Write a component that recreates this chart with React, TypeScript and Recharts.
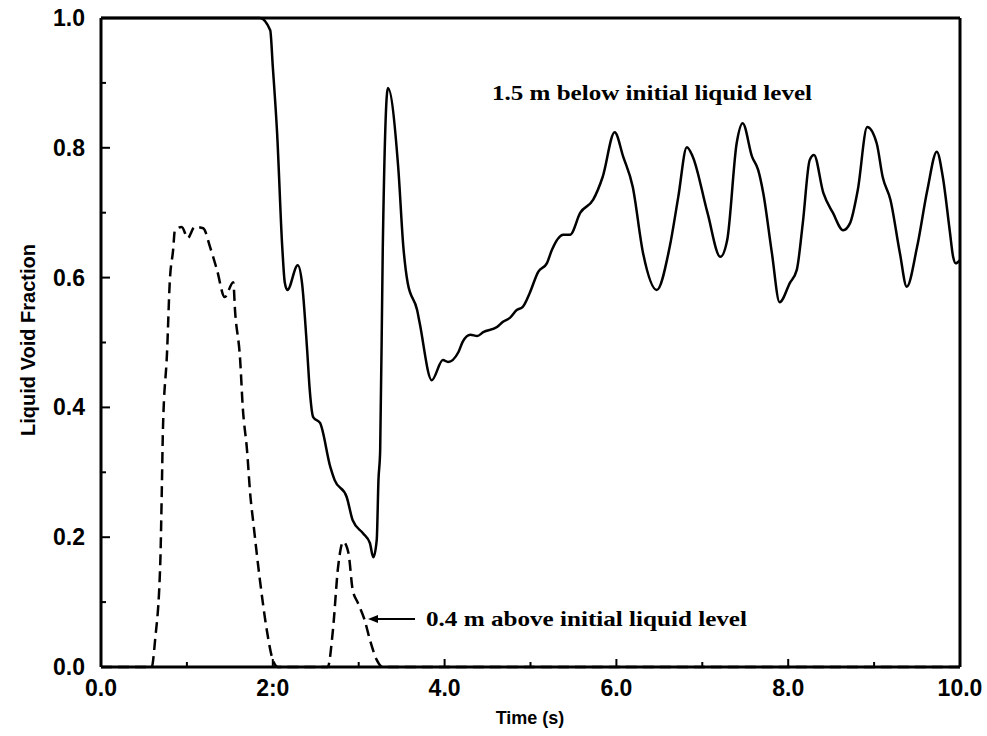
import { LineChart, Line, XAxis, YAxis } from "recharts"

// 1.5 m below initial liquid level (solid)
const belowTime = [
  0, 1.85, 1.97, 2.0, 2.05, 2.11, 2.14, 2.17, 2.29, 2.34, 2.4, 2.43, 2.47, 2.55, 2.67, 2.72, 2.86, 2.93,
  3.05, 3.13, 3.17, 3.21, 3.23, 3.25, 3.28, 3.34, 3.46, 3.52, 3.57, 3.68, 3.71, 3.85, 3.98, 4.04, 4.16,
  4.21, 4.3, 4.38, 4.45, 4.61, 4.68, 4.76, 4.84, 4.91, 4.99, 5.09, 5.19, 5.25, 5.38, 5.46, 5.58, 5.73,
  5.84, 5.98, 6.08, 6.19, 6.31, 6.47, 6.62, 6.72, 6.82, 6.89, 7.06, 7.21, 7.29, 7.4, 7.47, 7.58, 7.65,
  7.71, 7.81, 7.9, 8.02, 8.1, 8.17, 8.25, 8.3, 8.41, 8.52, 8.64, 8.72, 8.81, 8.92, 9.03, 9.1, 9.19, 9.3,
  9.38, 9.5, 9.62, 9.73, 9.8, 9.88, 9.92, 9.95, 10.0,
]
const belowFraction = [
  1.0, 1.0, 0.981, 0.925, 0.823, 0.647, 0.592, 0.581, 0.619, 0.592, 0.488, 0.427, 0.385, 0.376, 0.308,
  0.288, 0.262, 0.226, 0.206, 0.191, 0.169, 0.196, 0.288, 0.334, 0.643, 0.892, 0.77, 0.647, 0.592, 0.55,
  0.53, 0.442, 0.473, 0.47, 0.485, 0.501, 0.512, 0.51, 0.516, 0.524, 0.532, 0.538, 0.55, 0.555, 0.576,
  0.609, 0.622, 0.643, 0.666, 0.666, 0.7, 0.72, 0.755, 0.824, 0.786, 0.74, 0.638, 0.581, 0.647, 0.724,
  0.801, 0.786, 0.7, 0.632, 0.658, 0.807, 0.838, 0.786, 0.766, 0.73, 0.638, 0.562, 0.592, 0.612, 0.684,
  0.781, 0.789, 0.73, 0.7, 0.673, 0.684, 0.735, 0.832, 0.807, 0.755, 0.72, 0.638, 0.586, 0.647, 0.735,
  0.794, 0.755, 0.673, 0.632, 0.622, 0.627,
]

// 0.4 m above initial liquid level (dashed)
const aboveTime = [
  0, 0.59, 0.63, 0.69, 0.71, 0.72, 0.77, 0.8, 0.84, 0.86, 0.94, 1.01, 1.09, 1.19, 1.27, 1.35, 1.44, 1.54,
  1.56, 1.62, 1.65, 1.7, 1.74, 1.77, 1.85, 1.93, 2.0, 2.06, 2.64, 2.7, 2.76, 2.82, 2.88, 2.93, 2.99, 3.07,
  3.13, 3.21, 3.28, 10,
]
const aboveFraction = [
  0, 0, 0.042, 0.16, 0.288, 0.361, 0.488, 0.592, 0.643, 0.673, 0.678, 0.661, 0.678, 0.676, 0.647, 0.612,
  0.57, 0.593, 0.55, 0.473, 0.401, 0.334, 0.262, 0.226, 0.134, 0.057, 0.011, 0, 0, 0.057, 0.154, 0.193,
  0.176, 0.119, 0.099, 0.072, 0.042, 0.011, 0, 0,
]

const xTicks = [0, 1, 2, 3, 4, 5, 6, 7, 8, 9, 10]
const xTickLabels = ["0.0", "2:0", "4.0", "6.0", "8.0", "10.0"]
const yTicks = [0, 0.1, 0.2, 0.3, 0.4, 0.5, 0.6, 0.7, 0.8, 0.9, 1.0]
const yTickLabels = ["0.0", "0.2", "0.4", "0.6", "0.8", "1.0"]

const belowData = belowTime.map((t, i) => ({ t, v: belowFraction[i] }))
const aboveData = aboveTime.map((t, i) => ({ t, v: aboveFraction[i] }))

const sans = "'Liberation Sans', Arial, sans-serif"
const serif = "'Liberation Serif', 'Times New Roman', serif"

// ticks point inward, longer on the labelled ones
function BottomTick({ x, y, index }: any) {
  const major = index % 2 === 0
  return (
    <g>
      <path d={`M${x},${y}V${y - (major ? 8 : 5)}`} stroke="#000" strokeWidth={2} fill="none" />
      {major && (
        <text x={x} y={y + 29} textAnchor="middle" fontFamily={sans} fontWeight="bold" fontSize={23} fill="#000">
          {xTickLabels[index / 2]}
        </text>
      )}
    </g>
  )
}

function TopTick({ x, y, index }: any) {
  const major = index % 2 === 0
  return <path d={`M${x},${y}V${y + (major ? 7 : 5)}`} stroke="#000" strokeWidth={2} fill="none" />
}

function LeftTick({ x, y, index }: any) {
  const major = index % 2 === 0
  return (
    <g>
      <path d={`M${x},${y}H${x + (major ? 9 : 5)}`} stroke="#000" strokeWidth={2} fill="none" />
      {major && (
        <text x={x - 16} y={y + 8} textAnchor="end" fontFamily={sans} fontWeight="bold" fontSize={23} fill="#000">
          {yTickLabels[index / 2]}
        </text>
      )}
    </g>
  )
}

function RightTick({ x, y, index }: any) {
  const major = index % 2 === 0
  return <path d={`M${x},${y}H${x - (major ? 8 : 5)}`} stroke="#000" strokeWidth={2} fill="none" />
}

const axisStroke = { stroke: "#000", strokeWidth: 3 }

export default function App() {
  return (
    <div style={{ position: "absolute", left: 0, top: 0, width: 987, height: 736, background: "#fff" }}>
      <LineChart width={987} height={736} margin={{ top: 0, right: 0, bottom: 0, left: 0 }}>
        <XAxis
          xAxisId="bottom"
          type="number"
          dataKey="t"
          domain={[0, 10]}
          ticks={xTicks}
          interval={0}
          height={69}
          tickSize={0}
          tickMargin={0}
          tickLine={false}
          axisLine={axisStroke}
          tick={(p: any) => <BottomTick {...p} />}
        />
        <XAxis
          xAxisId="top"
          orientation="top"
          type="number"
          dataKey="t"
          domain={[0, 10]}
          ticks={xTicks}
          interval={0}
          height={18}
          tickSize={0}
          tickMargin={0}
          tickLine={false}
          axisLine={axisStroke}
          tick={(p: any) => <TopTick {...p} />}
        />
        <YAxis
          yAxisId="left"
          type="number"
          domain={[0, 1]}
          ticks={yTicks}
          interval={0}
          width={101}
          tickSize={0}
          tickMargin={0}
          tickLine={false}
          axisLine={axisStroke}
          tick={(p: any) => <LeftTick {...p} />}
        />
        <YAxis
          yAxisId="right"
          orientation="right"
          type="number"
          domain={[0, 1]}
          ticks={yTicks}
          interval={0}
          width={27}
          tickSize={0}
          tickMargin={0}
          tickLine={false}
          axisLine={axisStroke}
          tick={(p: any) => <RightTick {...p} />}
        />
        <Line
          xAxisId="bottom"
          yAxisId="left"
          data={belowData}
          dataKey="v"
          type="monotone"
          stroke="#000"
          strokeWidth={2.5}
          dot={false}
          isAnimationActive={false}
        />
        <Line
          xAxisId="bottom"
          yAxisId="left"
          data={aboveData}
          dataKey="v"
          type="monotone"
          stroke="#000"
          strokeWidth={2.5}
          strokeDasharray="11 6"
          dot={false}
          isAnimationActive={false}
        />
      </LineChart>
      <svg width={987} height={736} style={{ position: "absolute", left: 0, top: 0, pointerEvents: "none" }}>
        <text x={492} y={100} fontFamily={serif} fontWeight="bold" fontSize={21} textLength={320} lengthAdjust="spacingAndGlyphs" fill="#000">
          1.5 m below initial liquid level
        </text>
        <text x={426} y={626} fontFamily={serif} fontWeight="bold" fontSize={21} textLength={321} lengthAdjust="spacingAndGlyphs" fill="#000">
          0.4 m above initial liquid level
        </text>
        <line x1={415} y1={619} x2={375} y2={619} stroke="#000" strokeWidth={2} />
        <polygon points="368,619 378,615 378,623" fill="#000" />
        <text x={530} y={724} textAnchor="middle" fontFamily={sans} fontWeight="bold" fontSize={18} fill="#000">
          Time (s)
        </text>
        <text
          x={0}
          y={0}
          transform="translate(35, 340) rotate(-90)"
          textAnchor="middle"
          fontFamily={sans}
          fontWeight="bold"
          fontSize={20}
          fill="#000"
        >
          Liquid Void Fraction
        </text>
      </svg>
    </div>
  )
}
